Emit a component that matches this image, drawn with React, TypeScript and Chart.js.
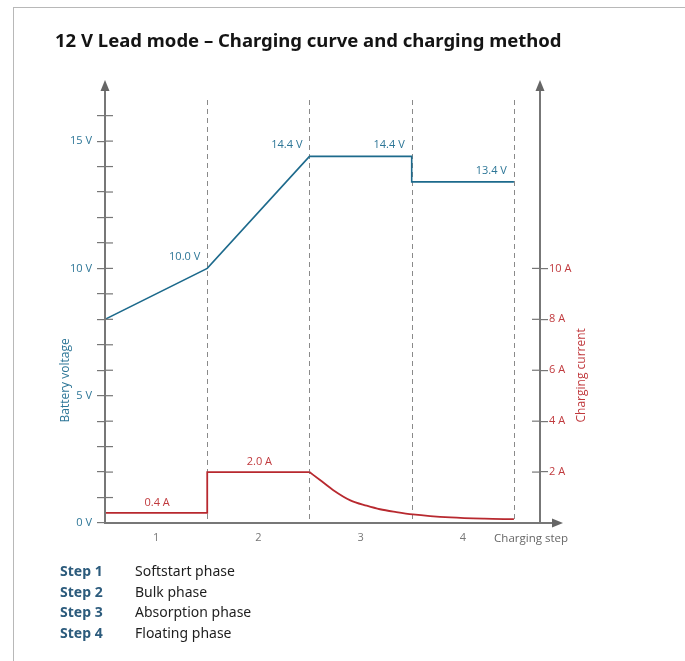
import React, { useEffect, useRef } from 'react';
import { Chart, registerables } from 'chart.js';

Chart.register(...registerables);

// ---- data ----
const stepTicks = [1, 2, 3, 4];
const stepTickLabels = ['1', '2', '3', '4'];
const phaseBoundaries = [1.5, 2.5, 3.5, 4.5];

const voltageX = [0.5, 1.5, 2.5, 3.5, 3.5, 4.5];
const voltageY = [8, 10, 14.4, 14.4, 13.4, 13.4];

const currentStepX = [0.5, 1.5, 1.5, 2.5];
const currentStepY = [0.4, 0.4, 2.0, 2.0];
const currentDecayX = [2.5, 2.6, 2.73, 2.9, 3.06, 3.19, 3.35, 3.51, 3.88, 4.21, 4.5];
const currentDecayY = [2.0, 1.7, 1.3, 0.89, 0.68, 0.54, 0.43, 0.34, 0.22, 0.17, 0.15];

const voltageTicks = [0, 1, 2, 3, 4, 5, 6, 7, 8, 9, 10, 11, 12, 13, 14, 15, 16];
const voltageTickLabels = ['0 V', '', '', '', '', '5 V', '', '', '', '', '10 V', '', '', '', '', '15 V', ''];
const currentTicks = [2, 4, 6, 8, 10];
const currentTickLabels = ['2 A', '4 A', '6 A', '8 A', '10 A'];

const voltageNoteX = [1.5, 2.5, 3.5, 4.5];
const voltageNoteY = [10, 14.4, 14.4, 13.4];
const voltageNoteText = ['10.0 V', '14.4 V', '14.4 V', '13.4 V'];
const currentNoteX = [1, 2];
const currentNoteY = [0.4, 2.0];
const currentNoteText = ['0.4 A', '2.0 A'];

const stepNames = ['Step 1', 'Step 2', 'Step 3', 'Step 4'];
const phaseNames = ['Softstart phase', 'Bulk phase', 'Absorption phase', 'Floating phase'];

const TITLE = '12 V Lead mode \u2013 Charging curve and charging method';

// ---- styles ----
const TEAL = '#1d6a8c';
const TEAL_TEXT = '#2d7697';
const RED = '#b8292f';
const RED_TEXT = '#c0393d';
const GRAY = '#777777';
const FONT = '"Open Sans", "Noto Sans", sans-serif';

const pts = (xs: number[], ys: number[]) => xs.map((x, i) => ({ x, y: ys[i] }));

const overlay = {
  id: 'overlay',
  beforeDatasetsDraw(chart: any) {
    const { ctx, chartArea, scales } = chart;
    const x = scales.x;
    ctx.save();
    ctx.strokeStyle = '#8a8a8a';
    ctx.lineWidth = 1;
    ctx.setLineDash([5, 4]);
    phaseBoundaries.forEach((b) => {
      const px = Math.round(x.getPixelForValue(b)) + 0.5;
      ctx.beginPath();
      ctx.moveTo(px, chartArea.top + 20);
      ctx.lineTo(px, chartArea.bottom);
      ctx.stroke();
    });
    ctx.restore();
  },
  afterDraw(chart: any) {
    const { ctx, chartArea, scales } = chart;
    const x = scales.x;
    const y = scales.y;
    const y1 = scales.y1;
    const L = chartArea.left;
    const R = chartArea.right;
    const B = chartArea.bottom;
    const T = chartArea.top;
    ctx.save();
    ctx.setLineDash([]);
    // inner halves of ticks
    ctx.strokeStyle = GRAY;
    ctx.lineWidth = 1.2;
    voltageTicks.forEach((v) => {
      const py = y.getPixelForValue(v);
      ctx.beginPath();
      ctx.moveTo(L, py);
      ctx.lineTo(L + 8, py);
      ctx.stroke();
    });
    currentTicks.forEach((v) => {
      const py = y1.getPixelForValue(v);
      ctx.beginPath();
      ctx.moveTo(R - 8, py);
      ctx.lineTo(R, py);
      ctx.stroke();
    });
    // axis lines
    ctx.lineWidth = 2;
    ctx.strokeStyle = GRAY;
    ctx.beginPath();
    ctx.moveTo(L, B + 1);
    ctx.lineTo(L, T + 8);
    ctx.moveTo(R, B + 1);
    ctx.lineTo(R, T + 8);
    ctx.moveTo(L - 1, B);
    ctx.lineTo(R + 15, B);
    ctx.stroke();
    // arrows
    ctx.fillStyle = '#666666';
    const up = (ax: number) => {
      ctx.beginPath();
      ctx.moveTo(ax, T);
      ctx.lineTo(ax - 4.5, T + 11);
      ctx.lineTo(ax + 4.5, T + 11);
      ctx.closePath();
      ctx.fill();
    };
    up(L);
    up(R);
    ctx.beginPath();
    ctx.moveTo(R + 23, B);
    ctx.lineTo(R + 12, B - 4.5);
    ctx.lineTo(R + 12, B + 4.5);
    ctx.closePath();
    ctx.fill();

    // value notes
    ctx.font = `11px ${FONT}`;
    ctx.fillStyle = TEAL_TEXT;
    ctx.textAlign = 'right';
    ctx.textBaseline = 'alphabetic';
    voltageNoteX.forEach((vx, i) => {
      ctx.fillText(voltageNoteText[i], x.getPixelForValue(vx) - 7, y.getPixelForValue(voltageNoteY[i]) - 8);
    });
    ctx.fillStyle = RED_TEXT;
    ctx.textAlign = 'center';
    currentNoteX.forEach((cx, i) => {
      ctx.fillText(currentNoteText[i], x.getPixelForValue(cx) + 1, y1.getPixelForValue(currentNoteY[i]) - 7);
    });

    // axis titles
    ctx.font = `12px ${FONT}`;
    ctx.textAlign = 'center';
    ctx.textBaseline = 'middle';
    ctx.save();
    ctx.translate(66, y.getPixelForValue(5.6));
    ctx.rotate(-Math.PI / 2);
    ctx.fillStyle = TEAL_TEXT;
    ctx.fillText('Battery voltage', 0, 0);
    ctx.restore();
    ctx.save();
    ctx.translate(R + 42, y1.getPixelForValue(5.8));
    ctx.rotate(-Math.PI / 2);
    ctx.fillStyle = RED_TEXT;
    ctx.fillText('Charging current', 0, 0);
    ctx.restore();

    ctx.fillStyle = '#666666';
    ctx.textAlign = 'right';
    ctx.textBaseline = 'alphabetic';
    ctx.font = `11.5px ${FONT}`;
    ctx.fillText('Charging step', R + 28, B + 19);
    ctx.restore();
  },
};

export default function App() {
  const ref = useRef<HTMLCanvasElement | null>(null);

  useEffect(() => {
    if (!ref.current) return;
    const chart = new Chart(ref.current, {
      type: 'line',
      data: {
        datasets: [
          {
            label: 'Battery voltage',
            data: pts(voltageX, voltageY),
            borderColor: TEAL,
            borderWidth: 1.6,
            pointRadius: 0,
            tension: 0,
            yAxisID: 'y',
          },
          {
            label: 'Charging current',
            data: pts(currentStepX, currentStepY),
            borderColor: RED,
            borderWidth: 1.8,
            pointRadius: 0,
            tension: 0,
            yAxisID: 'y1',
          },
          {
            label: 'Charging current decay',
            data: pts(currentDecayX, currentDecayY),
            borderColor: RED,
            borderWidth: 1.8,
            pointRadius: 0,
            cubicInterpolationMode: 'monotone',
            yAxisID: 'y1',
          },
        ],
      },
      options: {
        animation: false,
        responsive: false,
        devicePixelRatio: 1,
        parsing: true,
        layout: { padding: { left: 0, right: 0, top: 80, bottom: 0 } },
        plugins: { legend: { display: false }, tooltip: { enabled: false }, title: { display: false } },
        scales: {
          x: {
            type: 'linear',
            min: 0.5,
            max: 4.755,
            afterFit: (s: any) => { s.height = 661 - 523; },
            afterBuildTicks: (s: any) => { s.ticks = stepTicks.map((v) => ({ value: v })); },
            grid: { display: false, drawTicks: false },
            border: { display: false },
            ticks: {
              autoSkip: false,
              maxRotation: 0,
              padding: 8,
              color: GRAY,
              font: { family: FONT, size: 11 },
              callback: (v: any) => stepTickLabels[stepTicks.indexOf(Number(v))] ?? '',
            },
          },
          y: {
            type: 'linear',
            position: 'left',
            min: 0,
            max: 17.4,
            afterFit: (s: any) => { s.width = 105; },
            afterBuildTicks: (s: any) => { s.ticks = voltageTicks.map((v) => ({ value: v })); },
            grid: { display: true, drawOnChartArea: false, drawTicks: true, tickLength: 8, color: GRAY, lineWidth: 1.2 },
            border: { display: false },
            ticks: {
              autoSkip: false,
              padding: 5,
              color: TEAL_TEXT,
              font: { family: FONT, size: 11 },
              callback: (v: any) => voltageTickLabels[voltageTicks.indexOf(Number(v))] ?? '',
            },
          },
          y1: {
            type: 'linear',
            position: 'right',
            min: 0,
            max: 17.4,
            afterFit: (s: any) => { s.width = 685 - 540; },
            afterBuildTicks: (s: any) => { s.ticks = currentTicks.map((v) => ({ value: v })); },
            grid: { display: true, drawOnChartArea: false, drawTicks: true, tickLength: 8, color: GRAY, lineWidth: 1.2 },
            border: { display: false },
            ticks: {
              autoSkip: false,
              padding: 1,
              color: RED_TEXT,
              font: { family: FONT, size: 11 },
              callback: (v: any) => currentTickLabels[currentTicks.indexOf(Number(v))] ?? '',
            },
          },
        },
      },
      plugins: [overlay],
    } as any);
    return () => chart.destroy();
  }, []);

  return (
    <div style={{ position: 'absolute', left: 0, top: 0, width: 685, height: 661, background: '#fff', overflow: 'hidden' }}>
      <div
        style={{
          position: 'absolute', left: 13, top: 7, right: 0, bottom: 0,
          borderTop: '1px solid #b8b8b8', borderLeft: '1px solid #b8b8b8',
        }}
      />
      <canvas ref={ref} width={685} height={661} style={{ position: 'absolute', left: 0, top: 0, width: 685, height: 661 }} />
      <div
        style={{
          position: 'absolute', left: 55, top: 27, whiteSpace: 'nowrap',
          font: `bold 18.5px "Noto Sans", sans-serif`, color: '#141414', lineHeight: '26px',
        }}
      >
        {TITLE}
      </div>
      {stepNames.map((s, i) => (
        <div key={s} style={{ position: 'absolute', left: 0, top: 561 + i * 20.5, height: 21, lineHeight: '21px', whiteSpace: 'nowrap' }}>
          <span style={{ position: 'absolute', left: 60, font: `bold 14px "Noto Sans", sans-serif`, color: '#2c5b7c' }}>{s}</span>
          <span style={{ position: 'absolute', left: 135, font: `14px "Noto Sans", sans-serif`, color: '#1e1e1e' }}>{phaseNames[i]}</span>
        </div>
      ))}
    </div>
  );
}
